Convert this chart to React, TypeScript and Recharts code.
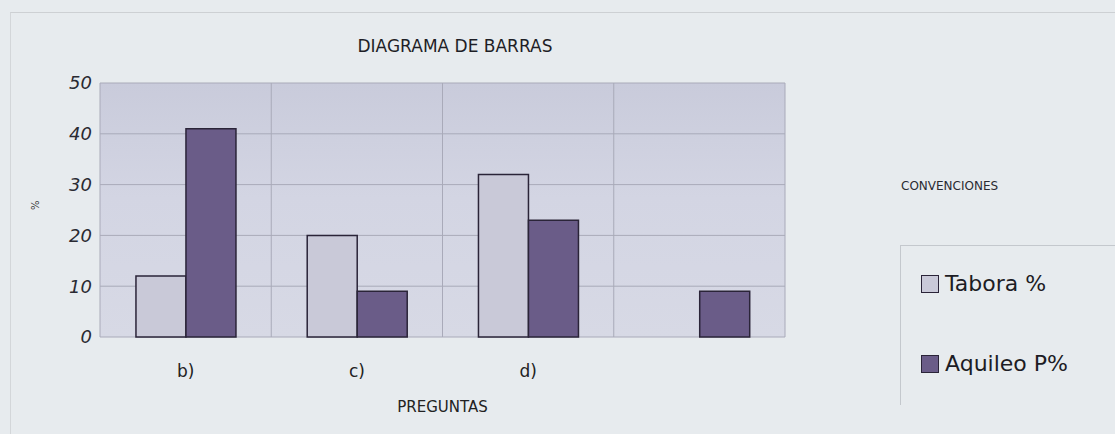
import React from 'react';
import { BarChart, Bar, XAxis, YAxis, CartesianGrid } from 'recharts';

const categories = ['b)', 'c)', 'd)', ''];
const taboraValues = [12, 20, 32, 0];
const aquileoValues = [41, 9, 23, 9];
const yTicks = [0, 10, 20, 30, 40, 50];
const seriesNames = ['Tabora %', 'Aquileo P%'];
const seriesColors = ['#c9c9d8', '#6a5c88'];

const data = categories.map((c, i) => ({
  name: c,
  tabora: taboraValues[i],
  aquileo: aquileoValues[i],
}));

const FONT = '"DejaVu Sans", "Open Sans", sans-serif';

const LegendBox = () => (
  <div
    style={{
      position: 'absolute',
      left: 900,
      top: 245,
      width: 230,
      height: 160,
      borderTop: '1px solid #c4c8cd',
      borderLeft: '1px solid #c4c8cd',
      boxSizing: 'border-box',
      fontFamily: FONT,
      color: '#1c1c24',
      fontSize: 22,
    }}
  >
    {seriesNames.map((n, i) => (
      <div key={n} style={{ position: 'absolute', left: 20, top: 25 + i * 80, display: 'flex', alignItems: 'center', whiteSpace: 'nowrap' }}>
        <span style={{ display: 'inline-block', width: 16, height: 16, background: seriesColors[i], border: '1.5px solid #2a2438', marginRight: 6 }} />
        {n}
      </div>
    ))}
  </div>
);

export default function App() {
  return (
    <div
      style={{
        position: 'absolute',
        left: 0,
        top: 0,
        width: 1115,
        height: 434,
        background: '#e7ebee',
        overflow: 'hidden',
      }}
    >
      <div style={{ position: 'absolute', left: 10, top: 12, width: 1120, height: 440, borderTop: '1px solid #cdd0d3', borderLeft: '1px solid #d3d6d9' }} />
      <div style={{ position: 'absolute', left: 0, width: 910, top: 36, textAlign: 'center', fontFamily: FONT, fontSize: 17, color: '#1e1e26' }}>
        DIAGRAMA DE BARRAS
      </div>
      <div style={{ position: 'absolute', left: 901, top: 179, fontFamily: FONT, fontSize: 12, color: '#2a2a32' }}>
        CONVENCIONES
      </div>
      <div style={{ position: 'absolute', left: 0, top: 0 }}>
        <BarChart
          width={1115}
          height={434}
          data={data}
          margin={{ top: 83, right: 330, bottom: 67, left: 40 }}
          barCategoryGap="21%"
          barGap={0}
        >
          <defs>
            <linearGradient id="plotBg" x1="0" y1="0" x2="0" y2="1">
              <stop offset="0%" stopColor="#c9cbdb" />
              <stop offset="45%" stopColor="#d3d5e3" />
              <stop offset="100%" stopColor="#d7d9e5" />
            </linearGradient>
          </defs>
          <CartesianGrid
            fill="url(#plotBg)"
            stroke="#a9aab9"
            strokeWidth={1}
            verticalCoordinatesGenerator={({ offset }: any) =>
              categories.map((_, i) => offset.left + (i * offset.width) / categories.length).concat([offset.left + offset.width])
            }
          />
          <XAxis
            dataKey="name"
            axisLine={false}
            tickLine={false}
            height={30}
            tick={{ fontFamily: FONT, fontSize: 17, fill: '#222' }}
            dy={20}
            label={{ value: 'PREGUNTAS', position: 'insideBottom', dy: 50, style: { fontFamily: FONT, fontSize: 15, fill: '#222' } }}
          />
          <YAxis
            width={60}
            domain={[0, 50]}
            ticks={yTicks}
            interval={0}
            axisLine={false}
            tickLine={false}
            tick={{ fontFamily: FONT, fontSize: 18, fontStyle: 'italic', fill: '#2a2a32' }}
            label={{ value: '%', angle: -90, position: 'insideLeft', dx: -10, style: { fontFamily: FONT, fontSize: 10, fill: '#333' } }}
          />
          <Bar dataKey="tabora" name={seriesNames[0]} fill={seriesColors[0]} stroke="#2a2438" strokeWidth={1.5} isAnimationActive={false} />
          <Bar dataKey="aquileo" name={seriesNames[1]} fill={seriesColors[1]} stroke="#2a2438" strokeWidth={1.5} isAnimationActive={false} />
        </BarChart>
      </div>
      <LegendBox />
    </div>
  );
}
